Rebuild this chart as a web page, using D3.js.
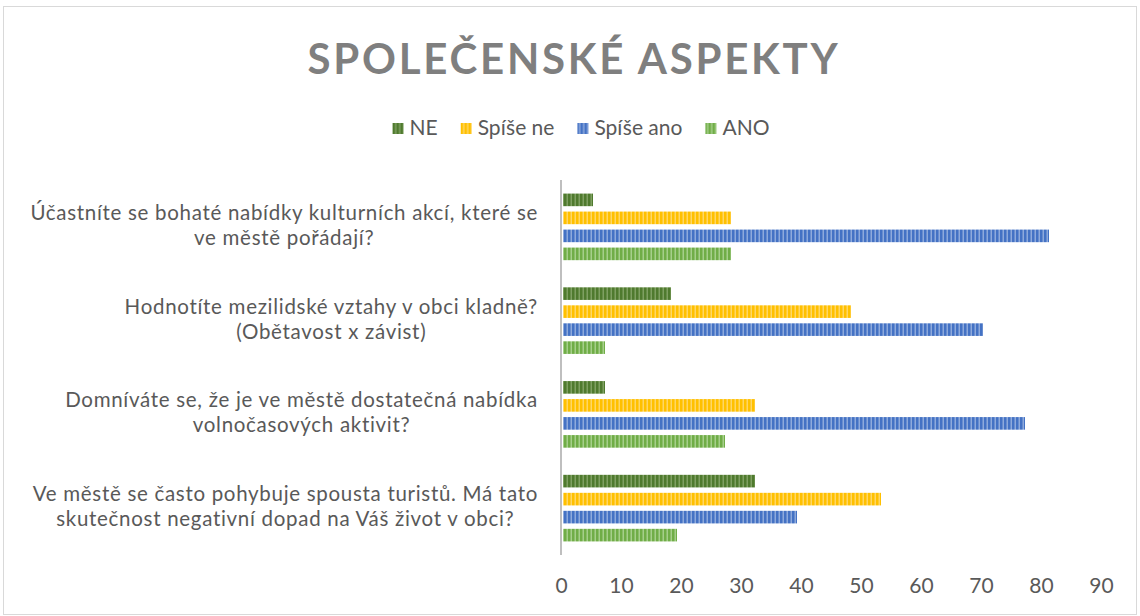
<!DOCTYPE html>
<html>
<head>
<meta charset="utf-8">
<script src="https://cdn.jsdelivr.net/npm/d3@7"></script>
<style>
  body { margin: 0; background: #fff; }
  svg { display: block; font-family: Lato, "Open Sans", sans-serif; }
</style>
</head>
<body>
<div id="chart"></div>
<script>
// data
const categories = [
  ['Účastníte se bohaté nabídky kulturních akcí, které se', 've městě pořádají?'],
  ['Hodnotíte mezilidské vztahy v obci kladně?', '(Obětavost x závist)'],
  ['Domníváte se, že je ve městě dostatečná nabídka', 'volnočasových aktivit?'],
  ['Ve městě se často pohybuje spousta turistů. Má tato', 'skutečnost negativní dopad na Váš život v obci?'],
];
const seriesNames = ['NE', 'Spíše ne', 'Spíše ano', 'ANO'];
const neValues = [5, 18, 7, 32];
const spiseNeValues = [28, 48, 32, 53];
const spiseAnoValues = [81, 70, 77, 39];
const anoValues = [28, 7, 27, 19];
const xTicks = [0, 10, 20, 30, 40, 50, 60, 70, 80, 90];

const colors = {
  'NE': ['#4f7a2e', '#7fa062'],
  'Spíše ne': ['#ffc000', '#ffd766'],
  'Spíše ano': ['#4472c4', '#8eaadc'],
  'ANO': ['#70ad47', '#a6cf8b'],
};

const allValues = [neValues, spiseNeValues, spiseAnoValues, anoValues];

const size = { width: 1140, height: 616 };
const margin = { top: 180, right: 39, bottom: 61, left: 561 };

const svg = d3.select('#chart')
  .append('svg')
  .attr('width', size.width)
  .attr('height', size.height);

// stripe patterns
const defs = svg.append('defs');
seriesNames.forEach((name, i) => {
  const p = defs.append('pattern')
    .attr('id', 'pat' + i)
    .attr('patternUnits', 'userSpaceOnUse')
    .attr('width', 4)
    .attr('height', 10);
  p.append('rect').attr('width', 4).attr('height', 10).attr('fill', colors[name][0]);
  p.append('rect').attr('x', 2.5).attr('width', 1.5).attr('height', 10).attr('fill', colors[name][1]);
});

// border
svg.append('rect')
  .attr('x', 3.5).attr('y', 6.5)
  .attr('width', 1133).attr('height', 608)
  .attr('fill', 'none')
  .attr('stroke', '#d9d9d9');

// title - spaced out so it spans roughly the same width as the reference
const title = svg.append('text')
  .attr('x', 574)
  .attr('y', 74)
  .attr('text-anchor', 'middle')
  .attr('fill', '#7f7f7f')
  .style('font-size', '42px')
  .style('font-weight', 'bold')
  .text('SPOLEČENSKÉ ASPEKTY');
const titleW = title.node().getComputedTextLength();
title.style('letter-spacing', `${Math.max(0, (533 - titleW) / 19)}px`);

// legend, laid out left to right then centred
const legend = svg.append('g');
let lx = 0;
seriesNames.forEach((name, i) => {
  legend.append('rect')
    .attr('x', lx).attr('y', 123)
    .attr('width', 11).attr('height', 11)
    .attr('fill', `url(#pat${i})`);
  const t = legend.append('text')
    .attr('x', lx + 17).attr('y', 135)
    .attr('fill', '#595959')
    .style('font-size', '21px')
    .text(name);
  lx += 17 + t.node().getComputedTextLength() + 23;
});
legend.attr('transform', `translate(${581 - (lx - 23) / 2}, 0)`);

const x = d3.scaleLinear()
  .domain([0, 90])
  .range([margin.left, size.width - margin.right]);

const y = d3.scaleBand()
  .domain(d3.range(categories.length))
  .range([margin.top, size.height - margin.bottom]);

const ySub = d3.scaleBand()
  .domain(d3.range(seriesNames.length))
  .range([y.bandwidth() / 2 - 36, y.bandwidth() / 2 + 36])
  .paddingInner(0.3)
  .paddingOuter(0.15);

// bars
const groups = svg.append('g')
  .selectAll('g')
  .data(categories)
  .join('g')
  .attr('transform', (d, i) => `translate(0, ${y(i)})`);

groups.selectAll('rect')
  .data((d, ci) => allValues.map((vals, si) => ({ si, v: vals[ci] })))
  .join('rect')
  .attr('x', x(0) + 2)
  .attr('y', (d) => ySub(d.si))
  .attr('width', (d) => x(d.v) - x(0))
  .attr('height', ySub.bandwidth())
  .attr('fill', (d) => `url(#pat${d.si})`);

// category axis line
svg.append('line')
  .attr('x1', x(0)).attr('x2', x(0))
  .attr('y1', margin.top).attr('y2', size.height - margin.bottom)
  .attr('stroke', '#bfbfbf')
  .attr('stroke-width', 2);

// category labels
categories.forEach((lines, i) => {
  const cy = y(i) + y.bandwidth() / 2;
  const t = svg.append('text')
    .attr('fill', '#595959')
    .attr('text-anchor', 'middle')
    .style('font-size', '20.5px')
    .style('letter-spacing', '0.7px');
  lines.forEach((line, j) => {
    t.append('tspan')
      .attr('y', cy - 7 + j * 25)
      .text(line);
  });
  // block right-aligned, lines centred inside it
  const w = d3.max(t.selectAll('tspan').nodes(), (n) => n.getComputedTextLength());
  t.selectAll('tspan').attr('x', 538 - w / 2);
});

// value axis
const xAxis = svg.append('g')
  .attr('transform', `translate(0, ${size.height - margin.bottom})`)
  .call(d3.axisBottom(x).tickValues(xTicks).tickSize(0).tickPadding(23));
xAxis.select('.domain').remove();
xAxis.selectAll('text')
  .attr('fill', '#595959')
  .style('font-family', 'Lato, "Open Sans", sans-serif')
  .style('font-size', '21px');
</script>
</body>
</html>
